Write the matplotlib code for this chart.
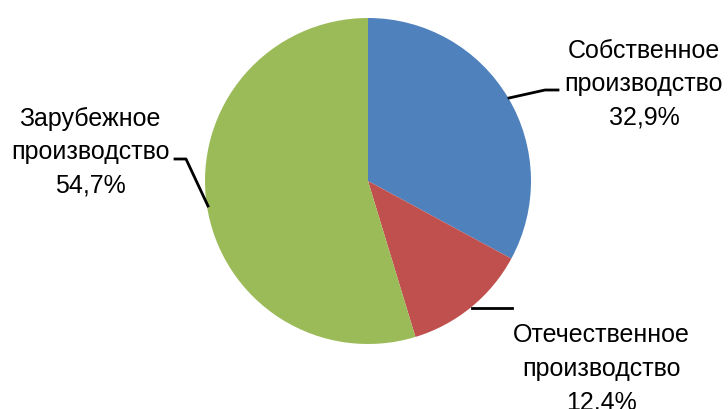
import matplotlib.pyplot as plt

# shares of production, clockwise from the top
labels = ["Собственное\nпроизводство", "Отечественное\nпроизводство", "Зарубежное\nпроизводство"]
shares = [32.9, 12.4, 54.7]
colors = ["#4F81BD", "#C0504D", "#9BBB59"]

W, H = 728, 410
fig = plt.figure(figsize=(W / 100, H / 100), dpi=100)
ax = fig.add_axes([0, 0, 1, 1])

cx, cy, r = 368, H - 182, 163
ax.pie(shares, colors=colors, startangle=90, counterclock=False,
       center=(cx, cy), radius=r, frame=True,
       wedgeprops=dict(linewidth=0))
ax.set_xlim(0, W)
ax.set_ylim(0, H)
ax.set_aspect("equal")
ax.axis("off")

texts = [f"{lab}\n{v:.1f}%".replace(".", ",") for lab, v in zip(labels, shares)]
font = dict(family=["Liberation Sans", "DejaVu Sans"], fontsize=18,
            ha="center", va="center", linespacing=1.5)

# label positions and leader lines (pixel coords, y from top)
ax.text(644, H - 84, texts[0], **font)
ax.plot([509, 545, 558], [H - 99, H - 91, H - 91], color="black", lw=2)

ax.text(601, H - 369, texts[1], **font)
ax.plot([472, 512], [H - 309, H - 309], color="black", lw=2)

ax.text(90, H - 152, texts[2], **font)
ax.plot([175, 186, 208], [H - 160, H - 160, H - 207], color="black", lw=2)

fig.savefig("out.png", dpi=100)
